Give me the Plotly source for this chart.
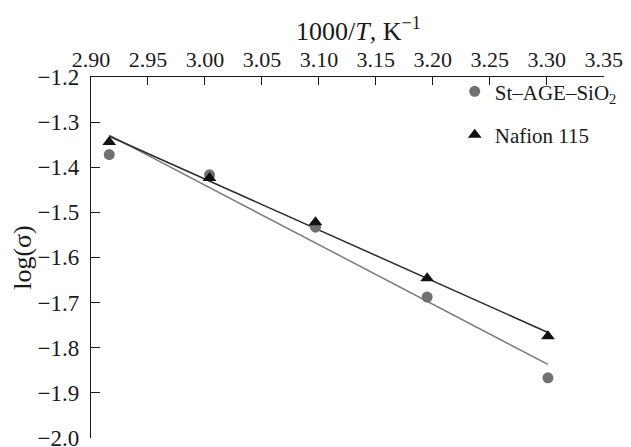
import numpy as np
import plotly.graph_objects as go

# Data
inv_T = [2.916, 3.004, 3.097, 3.195, 3.301]          # 1000/T, K^-1
log_sigma_st = [-1.372, -1.417, -1.533, -1.688, -1.867]   # St–AGE–SiO2
log_sigma_naf = [-1.344, -1.424, -1.522, -1.646, -1.775]  # Nafion 115

x_ticks = [2.90, 2.95, 3.00, 3.05, 3.10, 3.15, 3.20, 3.25, 3.30, 3.35]
y_ticks = [-1.2, -1.3, -1.4, -1.5, -1.6, -1.7, -1.8, -1.9, -2.0]

FONT = "Liberation Serif, Times New Roman, serif"
GRAY = "#707070"
DARK = "#111111"

x = np.array(inv_T)
fit_st = np.polyfit(x, np.array(log_sigma_st), 1)
fit_naf = np.polyfit(x, np.array(log_sigma_naf), 1)
x_line = np.array([x.min(), x.max()])

fig = go.Figure()
fig.add_trace(go.Scatter(x=x_line, y=np.polyval(fit_st, x_line), mode="lines",
                         line=dict(color="#7a7a7a", width=1.5), showlegend=False, hoverinfo="skip"))
fig.add_trace(go.Scatter(x=x_line, y=np.polyval(fit_naf, x_line), mode="lines",
                         line=dict(color="#2a2a2a", width=1.5), showlegend=False, hoverinfo="skip"))
fig.add_trace(go.Scatter(x=inv_T, y=log_sigma_st, mode="markers", name="St–AGE–SiO<sub>2</sub>",
                         legendgroup="a",
                         marker=dict(symbol="circle", size=11, color=GRAY)))
fig.add_trace(go.Scatter(x=inv_T, y=log_sigma_naf, mode="markers", name="Nafion 115",
                         legendgroup="b",
                         marker=dict(symbol="triangle-up", size=12, color=DARK)))

# page body has an 8px margin, so the figure is sized to fit the 631x447 window
fig.update_layout(
    width=623, height=439,
    margin=dict(l=83, r=23, t=69, b=9),
    paper_bgcolor="white", plot_bgcolor="white",
    font=dict(family=FONT, size=23, color="#1a1a1a"),
    legend=dict(x=0.709, y=1.016, xanchor="left", yanchor="top",
                bgcolor="rgba(0,0,0,0)", font=dict(size=21, family=FONT),
                tracegroupgap=13, traceorder="grouped", itemwidth=30),
    xaxis=dict(side="top", range=[2.90, 3.3502], tickvals=x_ticks,
               ticktext=[f"{v:.2f}" for v in x_ticks],
               tickfont=dict(size=22, family=FONT),
               showline=True, linecolor="#1a1a1a", linewidth=1.2,
               ticks="inside", ticklen=8, tickcolor="#1a1a1a",
               ticklabelstandoff=0, automargin=False, ticklabeloverflow="allow",
               showgrid=False, zeroline=False),
    yaxis=dict(range=[-2.0005, -1.2], tickvals=y_ticks,
               ticktext=[f"−{abs(v):.1f}" for v in y_ticks],
               showline=True, linecolor="#1a1a1a", linewidth=1.2,
               ticks="inside", ticklen=9, tickcolor="#1a1a1a",
               ticklabelstandoff=6,
               automargin=False, ticklabeloverflow="allow",
               showgrid=False, zeroline=False,
               title=dict(text="log(σ)", standoff=0, font=dict(size=26, family=FONT))),
    annotations=[dict(text="1000/<i>T</i>, K<sup>−1</sup>", xref="paper", yref="paper",
                      x=0.522, y=1.132, xanchor="center", yanchor="middle",
                      showarrow=False, font=dict(size=26, family=FONT, color="#1a1a1a"))],
)

fig.write_html("out.html")
